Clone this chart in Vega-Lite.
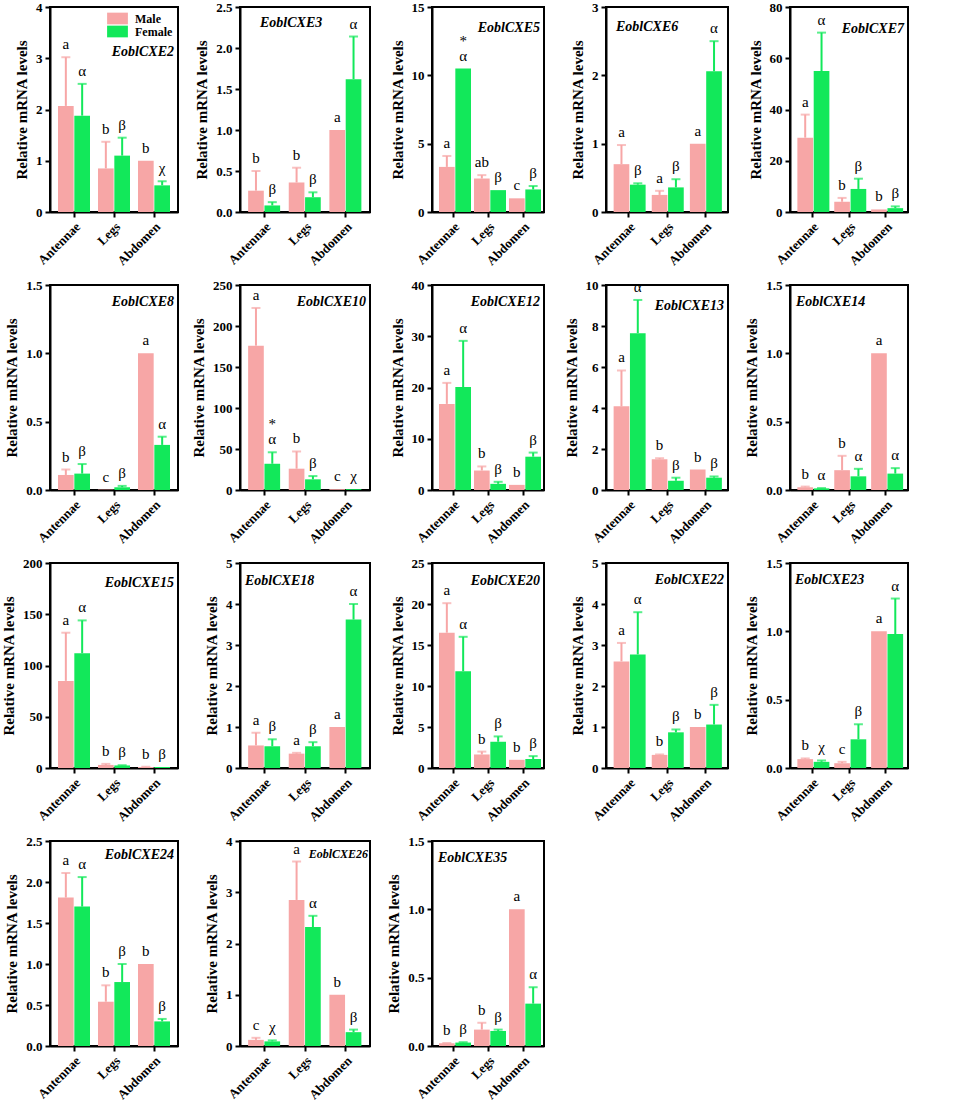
{
"$schema": "https://vega.github.io/schema/vega-lite/v6.json",
"background": "white",
"padding": {"left": 0, "top": 0, "right": 5, "bottom": 0},
"datasets": {"expr": [
{"gene":"EoblCXE2","tissue":"Antennae","sex":"Male","value":2.07,"upper":3.02,"letter":"a"},
{"gene":"EoblCXE2","tissue":"Antennae","sex":"Female","value":1.88,"upper":2.5,"letter":"α"},
{"gene":"EoblCXE2","tissue":"Legs","sex":"Male","value":0.85,"upper":1.37,"letter":"b"},
{"gene":"EoblCXE2","tissue":"Legs","sex":"Female","value":1.1,"upper":1.45,"letter":"β"},
{"gene":"EoblCXE2","tissue":"Abdomen","sex":"Male","value":1.0,"upper":1.0,"letter":"b"},
{"gene":"EoblCXE2","tissue":"Abdomen","sex":"Female","value":0.52,"upper":0.6,"letter":"χ"},
{"gene":"EoblCXE3","tissue":"Antennae","sex":"Male","value":0.26,"upper":0.5,"letter":"b"},
{"gene":"EoblCXE3","tissue":"Antennae","sex":"Female","value":0.08,"upper":0.12,"letter":"β"},
{"gene":"EoblCXE3","tissue":"Legs","sex":"Male","value":0.36,"upper":0.54,"letter":"b"},
{"gene":"EoblCXE3","tissue":"Legs","sex":"Female","value":0.18,"upper":0.24,"letter":"β"},
{"gene":"EoblCXE3","tissue":"Abdomen","sex":"Male","value":1.0,"upper":1.0,"letter":"a"},
{"gene":"EoblCXE3","tissue":"Abdomen","sex":"Female","value":1.62,"upper":2.14,"letter":"α"},
{"gene":"EoblCXE5","tissue":"Antennae","sex":"Male","value":3.3,"upper":4.1,"letter":"a"},
{"gene":"EoblCXE5","tissue":"Antennae","sex":"Female","value":10.5,"upper":10.5,"letter":"α","star":"*"},
{"gene":"EoblCXE5","tissue":"Legs","sex":"Male","value":2.45,"upper":2.7,"letter":"ab"},
{"gene":"EoblCXE5","tissue":"Legs","sex":"Female","value":1.6,"upper":1.6,"letter":"β"},
{"gene":"EoblCXE5","tissue":"Abdomen","sex":"Male","value":1.0,"upper":1.0,"letter":"c"},
{"gene":"EoblCXE5","tissue":"Abdomen","sex":"Female","value":1.65,"upper":1.9,"letter":"β"},
{"gene":"EoblCXE6","tissue":"Antennae","sex":"Male","value":0.7,"upper":0.98,"letter":"a"},
{"gene":"EoblCXE6","tissue":"Antennae","sex":"Female","value":0.4,"upper":0.42,"letter":"β"},
{"gene":"EoblCXE6","tissue":"Legs","sex":"Male","value":0.25,"upper":0.31,"letter":"a"},
{"gene":"EoblCXE6","tissue":"Legs","sex":"Female","value":0.36,"upper":0.48,"letter":"β"},
{"gene":"EoblCXE6","tissue":"Abdomen","sex":"Male","value":1.0,"upper":1.0,"letter":"a"},
{"gene":"EoblCXE6","tissue":"Abdomen","sex":"Female","value":2.06,"upper":2.5,"letter":"α"},
{"gene":"EoblCXE7","tissue":"Antennae","sex":"Male","value":29,"upper":38,"letter":"a"},
{"gene":"EoblCXE7","tissue":"Antennae","sex":"Female","value":55,"upper":70,"letter":"α"},
{"gene":"EoblCXE7","tissue":"Legs","sex":"Male","value":4,"upper":5.5,"letter":"b"},
{"gene":"EoblCXE7","tissue":"Legs","sex":"Female","value":9,"upper":13,"letter":"β"},
{"gene":"EoblCXE7","tissue":"Abdomen","sex":"Male","value":1,"upper":1,"letter":"b"},
{"gene":"EoblCXE7","tissue":"Abdomen","sex":"Female","value":1.5,"upper":2.2,"letter":"β"},
{"gene":"EoblCXE8","tissue":"Antennae","sex":"Male","value":0.11,"upper":0.15,"letter":"b"},
{"gene":"EoblCXE8","tissue":"Antennae","sex":"Female","value":0.12,"upper":0.19,"letter":"β"},
{"gene":"EoblCXE8","tissue":"Legs","sex":"Male","value":0.003,"upper":0.003,"letter":"c"},
{"gene":"EoblCXE8","tissue":"Legs","sex":"Female","value":0.02,"upper":0.03,"letter":"β"},
{"gene":"EoblCXE8","tissue":"Abdomen","sex":"Male","value":1.0,"upper":1.0,"letter":"a"},
{"gene":"EoblCXE8","tissue":"Abdomen","sex":"Female","value":0.33,"upper":0.39,"letter":"α"},
{"gene":"EoblCXE10","tissue":"Antennae","sex":"Male","value":176,"upper":222,"letter":"a"},
{"gene":"EoblCXE10","tissue":"Antennae","sex":"Female","value":32,"upper":46,"letter":"α","star":"*"},
{"gene":"EoblCXE10","tissue":"Legs","sex":"Male","value":26,"upper":47,"letter":"b"},
{"gene":"EoblCXE10","tissue":"Legs","sex":"Female","value":13,"upper":17,"letter":"β"},
{"gene":"EoblCXE10","tissue":"Abdomen","sex":"Male","value":1,"upper":1,"letter":"c"},
{"gene":"EoblCXE10","tissue":"Abdomen","sex":"Female","value":1,"upper":1,"letter":"χ"},
{"gene":"EoblCXE12","tissue":"Antennae","sex":"Male","value":16.8,"upper":20.9,"letter":"a"},
{"gene":"EoblCXE12","tissue":"Antennae","sex":"Female","value":20.1,"upper":29.1,"letter":"α"},
{"gene":"EoblCXE12","tissue":"Legs","sex":"Male","value":3.8,"upper":4.6,"letter":"b"},
{"gene":"EoblCXE12","tissue":"Legs","sex":"Female","value":1.2,"upper":1.6,"letter":"β"},
{"gene":"EoblCXE12","tissue":"Abdomen","sex":"Male","value":1.0,"upper":1.0,"letter":"b"},
{"gene":"EoblCXE12","tissue":"Abdomen","sex":"Female","value":6.5,"upper":7.3,"letter":"β"},
{"gene":"EoblCXE13","tissue":"Antennae","sex":"Male","value":4.08,"upper":5.83,"letter":"a"},
{"gene":"EoblCXE13","tissue":"Antennae","sex":"Female","value":7.65,"upper":9.27,"letter":"α"},
{"gene":"EoblCXE13","tissue":"Legs","sex":"Male","value":1.5,"upper":1.55,"letter":"b"},
{"gene":"EoblCXE13","tissue":"Legs","sex":"Female","value":0.45,"upper":0.6,"letter":"β"},
{"gene":"EoblCXE13","tissue":"Abdomen","sex":"Male","value":1.0,"upper":1.0,"letter":"b"},
{"gene":"EoblCXE13","tissue":"Abdomen","sex":"Female","value":0.6,"upper":0.66,"letter":"β"},
{"gene":"EoblCXE14","tissue":"Antennae","sex":"Male","value":0.02,"upper":0.025,"letter":"b"},
{"gene":"EoblCXE14","tissue":"Antennae","sex":"Female","value":0.012,"upper":0.014,"letter":"α"},
{"gene":"EoblCXE14","tissue":"Legs","sex":"Male","value":0.145,"upper":0.25,"letter":"b"},
{"gene":"EoblCXE14","tissue":"Legs","sex":"Female","value":0.1,"upper":0.155,"letter":"α"},
{"gene":"EoblCXE14","tissue":"Abdomen","sex":"Male","value":1.0,"upper":1.0,"letter":"a"},
{"gene":"EoblCXE14","tissue":"Abdomen","sex":"Female","value":0.12,"upper":0.16,"letter":"α"},
{"gene":"EoblCXE15","tissue":"Antennae","sex":"Male","value":85,"upper":132,"letter":"a"},
{"gene":"EoblCXE15","tissue":"Antennae","sex":"Female","value":112,"upper":144,"letter":"α"},
{"gene":"EoblCXE15","tissue":"Legs","sex":"Male","value":3,"upper":4,"letter":"b"},
{"gene":"EoblCXE15","tissue":"Legs","sex":"Female","value":2.5,"upper":2.7,"letter":"β"},
{"gene":"EoblCXE15","tissue":"Abdomen","sex":"Male","value":1,"upper":1.2,"letter":"b"},
{"gene":"EoblCXE15","tissue":"Abdomen","sex":"Female","value":1,"upper":1,"letter":"β"},
{"gene":"EoblCXE18","tissue":"Antennae","sex":"Male","value":0.55,"upper":0.86,"letter":"a"},
{"gene":"EoblCXE18","tissue":"Antennae","sex":"Female","value":0.53,"upper":0.7,"letter":"β"},
{"gene":"EoblCXE18","tissue":"Legs","sex":"Male","value":0.35,"upper":0.37,"letter":"a"},
{"gene":"EoblCXE18","tissue":"Legs","sex":"Female","value":0.53,"upper":0.63,"letter":"β"},
{"gene":"EoblCXE18","tissue":"Abdomen","sex":"Male","value":1.0,"upper":1.0,"letter":"a"},
{"gene":"EoblCXE18","tissue":"Abdomen","sex":"Female","value":3.62,"upper":4.0,"letter":"α"},
{"gene":"EoblCXE20","tissue":"Antennae","sex":"Male","value":16.5,"upper":20.1,"letter":"a"},
{"gene":"EoblCXE20","tissue":"Antennae","sex":"Female","value":11.8,"upper":16.0,"letter":"α"},
{"gene":"EoblCXE20","tissue":"Legs","sex":"Male","value":1.65,"upper":2.0,"letter":"b"},
{"gene":"EoblCXE20","tissue":"Legs","sex":"Female","value":3.2,"upper":3.85,"letter":"β"},
{"gene":"EoblCXE20","tissue":"Abdomen","sex":"Male","value":1.0,"upper":1.0,"letter":"b"},
{"gene":"EoblCXE20","tissue":"Abdomen","sex":"Female","value":1.1,"upper":1.45,"letter":"β"},
{"gene":"EoblCXE22","tissue":"Antennae","sex":"Male","value":2.6,"upper":3.05,"letter":"a"},
{"gene":"EoblCXE22","tissue":"Antennae","sex":"Female","value":2.77,"upper":3.8,"letter":"α"},
{"gene":"EoblCXE22","tissue":"Legs","sex":"Male","value":0.32,"upper":0.33,"letter":"b"},
{"gene":"EoblCXE22","tissue":"Legs","sex":"Female","value":0.87,"upper":0.94,"letter":"β"},
{"gene":"EoblCXE22","tissue":"Abdomen","sex":"Male","value":1.0,"upper":1.0,"letter":"b"},
{"gene":"EoblCXE22","tissue":"Abdomen","sex":"Female","value":1.06,"upper":1.54,"letter":"β"},
{"gene":"EoblCXE23","tissue":"Antennae","sex":"Male","value":0.065,"upper":0.07,"letter":"b"},
{"gene":"EoblCXE23","tissue":"Antennae","sex":"Female","value":0.045,"upper":0.055,"letter":"χ"},
{"gene":"EoblCXE23","tissue":"Legs","sex":"Male","value":0.035,"upper":0.045,"letter":"c"},
{"gene":"EoblCXE23","tissue":"Legs","sex":"Female","value":0.21,"upper":0.32,"letter":"β"},
{"gene":"EoblCXE23","tissue":"Abdomen","sex":"Male","value":1.0,"upper":1.0,"letter":"a"},
{"gene":"EoblCXE23","tissue":"Abdomen","sex":"Female","value":0.98,"upper":1.24,"letter":"α"},
{"gene":"EoblCXE24","tissue":"Antennae","sex":"Male","value":1.81,"upper":2.11,"letter":"a"},
{"gene":"EoblCXE24","tissue":"Antennae","sex":"Female","value":1.7,"upper":2.06,"letter":"α"},
{"gene":"EoblCXE24","tissue":"Legs","sex":"Male","value":0.54,"upper":0.74,"letter":"b"},
{"gene":"EoblCXE24","tissue":"Legs","sex":"Female","value":0.78,"upper":1.0,"letter":"β"},
{"gene":"EoblCXE24","tissue":"Abdomen","sex":"Male","value":1.0,"upper":1.0,"letter":"b"},
{"gene":"EoblCXE24","tissue":"Abdomen","sex":"Female","value":0.3,"upper":0.33,"letter":"β"},
{"gene":"EoblCXE26","tissue":"Antennae","sex":"Male","value":0.12,"upper":0.16,"letter":"c"},
{"gene":"EoblCXE26","tissue":"Antennae","sex":"Female","value":0.09,"upper":0.11,"letter":"χ"},
{"gene":"EoblCXE26","tissue":"Legs","sex":"Male","value":2.85,"upper":3.6,"letter":"a"},
{"gene":"EoblCXE26","tissue":"Legs","sex":"Female","value":2.32,"upper":2.54,"letter":"α"},
{"gene":"EoblCXE26","tissue":"Abdomen","sex":"Male","value":1.0,"upper":1.0,"letter":"b"},
{"gene":"EoblCXE26","tissue":"Abdomen","sex":"Female","value":0.27,"upper":0.32,"letter":"β"},
{"gene":"EoblCXE35","tissue":"Antennae","sex":"Male","value":0.02,"upper":0.022,"letter":"b"},
{"gene":"EoblCXE35","tissue":"Antennae","sex":"Female","value":0.025,"upper":0.028,"letter":"β"},
{"gene":"EoblCXE35","tissue":"Legs","sex":"Male","value":0.12,"upper":0.17,"letter":"b"},
{"gene":"EoblCXE35","tissue":"Legs","sex":"Female","value":0.11,"upper":0.12,"letter":"β"},
{"gene":"EoblCXE35","tissue":"Abdomen","sex":"Male","value":1.0,"upper":1.0,"letter":"a"},
{"gene":"EoblCXE35","tissue":"Abdomen","sex":"Female","value":0.31,"upper":0.43,"letter":"α"}
]},
"data": {"name": "expr"},
"columns": 5,
"bounds": "flush",
"align": "each",
"spacing": {"row": 73, "column": 62},
"resolve": {"scale": {"color": "independent"}},
"concat": [
{"width":128,"height":205,"title":{"text":"EoblCXE2","offset":-58},"transform":[{"filter":"datum.gene==='EoblCXE2'"}],
 "encoding":{"x":{"field":"tissue","type":"nominal","sort":["Antennae","Legs","Abdomen"],"title":null},"xOffset":{"field":"sex","sort":["Male","Female"]},
  "color":{"field":"sex","type":"nominal","sort":["Male","Female"],"scale":{"domain":["Male","Female"],"range":["#F7A6A6","#12E85A"]},
   "legend":{"orient":"top-right","title":null,"offset":5,"padding":0,"rowPadding":0,"labelFont":"Liberation Serif, Times New Roman, serif","labelFontSize":12,"labelFontWeight":"bold","labelColor":"black","labelOffset":11,"symbolType":"M-1.6,-0.9H1.6V0.9H-1.6Z","symbolSize":169,"symbolStrokeWidth":0,"symbolOpacity":1}},
  "y":{"field":"value","type":"quantitative","scale":{"domain":[0,4],"nice":false},"title":"Relative mRNA levels"}},
 "layer":[
  {"mark":{"type":"bar"}},
  {"transform":[{"filter":"datum.upper > datum.value"}],"mark":{"type":"rule","strokeWidth":2},"encoding":{"y2":{"field":"upper"}}},
  {"transform":[{"filter":"datum.upper > datum.value"}],"mark":{"type":"tick","thickness":2,"size":9},"encoding":{"y":{"field":"upper","type":"quantitative","title":"Relative mRNA levels"}}},
  {"mark":{"type":"text","dy":-8,"baseline":"alphabetic"},"encoding":{"y":{"field":"upper","type":"quantitative","title":"Relative mRNA levels"},"text":{"field":"letter"},"color":{"value":"black"}}}
 ]},
{"width":130,"height":205,"title":{"text":"EoblCXE3","anchor":"start","dx":20,"offset":-29},"transform":[{"filter":"datum.gene==='EoblCXE3'"}],
 "encoding":{"x":{"field":"tissue","type":"nominal","sort":["Antennae","Legs","Abdomen"],"title":null},"xOffset":{"field":"sex","sort":["Male","Female"]},
  "color":{"field":"sex","type":"nominal","scale":{"domain":["Male","Female"],"range":["#F7A6A6","#12E85A"]},"legend":null},
  "y":{"field":"value","type":"quantitative","scale":{"domain":[0,2.5],"nice":false},"title":"Relative mRNA levels"}},
 "layer":[
  {"mark":{"type":"bar"}},
  {"transform":[{"filter":"datum.upper > datum.value"}],"mark":{"type":"rule","strokeWidth":2},"encoding":{"y2":{"field":"upper"}}},
  {"transform":[{"filter":"datum.upper > datum.value"}],"mark":{"type":"tick","thickness":2,"size":9},"encoding":{"y":{"field":"upper","type":"quantitative","title":"Relative mRNA levels"}}},
  {"mark":{"type":"text","dy":-8,"baseline":"alphabetic"},"encoding":{"y":{"field":"upper","type":"quantitative","title":"Relative mRNA levels"},"text":{"field":"letter"},"color":{"value":"black"}}}
 ]},
{"width":112,"height":205,"title":{"text":"EoblCXE5","offset":-34},"transform":[{"filter":"datum.gene==='EoblCXE5'"}],
 "encoding":{"x":{"field":"tissue","type":"nominal","sort":["Antennae","Legs","Abdomen"],"title":null},"xOffset":{"field":"sex","sort":["Male","Female"]},
  "color":{"field":"sex","type":"nominal","scale":{"domain":["Male","Female"],"range":["#F7A6A6","#12E85A"]},"legend":null},
  "y":{"field":"value","type":"quantitative","scale":{"domain":[0,15],"nice":false},"title":"Relative mRNA levels"}},
 "layer":[
  {"mark":{"type":"bar"}},
  {"transform":[{"filter":"datum.upper > datum.value"}],"mark":{"type":"rule","strokeWidth":2},"encoding":{"y2":{"field":"upper"}}},
  {"transform":[{"filter":"datum.upper > datum.value"}],"mark":{"type":"tick","thickness":2,"size":9},"encoding":{"y":{"field":"upper","type":"quantitative","title":"Relative mRNA levels"}}},
  {"mark":{"type":"text","dy":-8,"baseline":"alphabetic"},"encoding":{"y":{"field":"upper","type":"quantitative","title":"Relative mRNA levels"},"text":{"field":"letter"},"color":{"value":"black"}}},
  {"transform":[{"filter":"datum.star"}],"mark":{"type":"text","dy":-23,"baseline":"alphabetic"},"encoding":{"y":{"field":"upper","type":"quantitative","title":"Relative mRNA levels"},"text":{"field":"star"},"color":{"value":"black"}}}
 ]},
{"width":122,"height":205,"title":{"text":"EoblCXE6","anchor":"start","dx":10,"offset":-33},"transform":[{"filter":"datum.gene==='EoblCXE6'"}],
 "encoding":{"x":{"field":"tissue","type":"nominal","sort":["Antennae","Legs","Abdomen"],"title":null},"xOffset":{"field":"sex","sort":["Male","Female"]},
  "color":{"field":"sex","type":"nominal","scale":{"domain":["Male","Female"],"range":["#F7A6A6","#12E85A"]},"legend":null},
  "y":{"field":"value","type":"quantitative","scale":{"domain":[0,3],"nice":false},"title":"Relative mRNA levels"}},
 "layer":[
  {"mark":{"type":"bar"}},
  {"transform":[{"filter":"datum.upper > datum.value"}],"mark":{"type":"rule","strokeWidth":2},"encoding":{"y2":{"field":"upper"}}},
  {"transform":[{"filter":"datum.upper > datum.value"}],"mark":{"type":"tick","thickness":2,"size":9},"encoding":{"y":{"field":"upper","type":"quantitative","title":"Relative mRNA levels"}}},
  {"mark":{"type":"text","dy":-8,"baseline":"alphabetic"},"encoding":{"y":{"field":"upper","type":"quantitative","title":"Relative mRNA levels"},"text":{"field":"letter"},"color":{"value":"black"}}}
 ]},
{"width":118,"height":205,"title":{"text":"EoblCXE7","offset":-35},"transform":[{"filter":"datum.gene==='EoblCXE7'"}],
 "encoding":{"x":{"field":"tissue","type":"nominal","sort":["Antennae","Legs","Abdomen"],"title":null},"xOffset":{"field":"sex","sort":["Male","Female"]},
  "color":{"field":"sex","type":"nominal","scale":{"domain":["Male","Female"],"range":["#F7A6A6","#12E85A"]},"legend":null},
  "y":{"field":"value","type":"quantitative","scale":{"domain":[0,80],"nice":false},"title":"Relative mRNA levels"}},
 "layer":[
  {"mark":{"type":"bar"}},
  {"transform":[{"filter":"datum.upper > datum.value"}],"mark":{"type":"rule","strokeWidth":2},"encoding":{"y2":{"field":"upper"}}},
  {"transform":[{"filter":"datum.upper > datum.value"}],"mark":{"type":"tick","thickness":2,"size":9},"encoding":{"y":{"field":"upper","type":"quantitative","title":"Relative mRNA levels"}}},
  {"mark":{"type":"text","dy":-8,"baseline":"alphabetic"},"encoding":{"y":{"field":"upper","type":"quantitative","title":"Relative mRNA levels"},"text":{"field":"letter"},"color":{"value":"black"}}}
 ]},
{"width":128,"height":205,"title":{"text":"EoblCXE8","offset":-30},"transform":[{"filter":"datum.gene==='EoblCXE8'"}],
 "encoding":{"x":{"field":"tissue","type":"nominal","sort":["Antennae","Legs","Abdomen"],"title":null},"xOffset":{"field":"sex","sort":["Male","Female"]},
  "color":{"field":"sex","type":"nominal","scale":{"domain":["Male","Female"],"range":["#F7A6A6","#12E85A"]},"legend":null},
  "y":{"field":"value","type":"quantitative","scale":{"domain":[0,1.5],"nice":false},"title":"Relative mRNA levels"}},
 "layer":[
  {"mark":{"type":"bar"}},
  {"transform":[{"filter":"datum.upper > datum.value"}],"mark":{"type":"rule","strokeWidth":2},"encoding":{"y2":{"field":"upper"}}},
  {"transform":[{"filter":"datum.upper > datum.value"}],"mark":{"type":"tick","thickness":2,"size":9},"encoding":{"y":{"field":"upper","type":"quantitative","title":"Relative mRNA levels"}}},
  {"mark":{"type":"text","dy":-8,"baseline":"alphabetic"},"encoding":{"y":{"field":"upper","type":"quantitative","title":"Relative mRNA levels"},"text":{"field":"letter"},"color":{"value":"black"}}}
 ]},
{"width":130,"height":205,"title":{"text":"EoblCXE10","offset":-30},"transform":[{"filter":"datum.gene==='EoblCXE10'"}],
 "encoding":{"x":{"field":"tissue","type":"nominal","sort":["Antennae","Legs","Abdomen"],"title":null},"xOffset":{"field":"sex","sort":["Male","Female"]},
  "color":{"field":"sex","type":"nominal","scale":{"domain":["Male","Female"],"range":["#F7A6A6","#12E85A"]},"legend":null},
  "y":{"field":"value","type":"quantitative","scale":{"domain":[0,250],"nice":false},"title":"Relative mRNA levels"}},
 "layer":[
  {"mark":{"type":"bar"}},
  {"transform":[{"filter":"datum.upper > datum.value"}],"mark":{"type":"rule","strokeWidth":2},"encoding":{"y2":{"field":"upper"}}},
  {"transform":[{"filter":"datum.upper > datum.value"}],"mark":{"type":"tick","thickness":2,"size":9},"encoding":{"y":{"field":"upper","type":"quantitative","title":"Relative mRNA levels"}}},
  {"mark":{"type":"text","dy":-8,"baseline":"alphabetic"},"encoding":{"y":{"field":"upper","type":"quantitative","title":"Relative mRNA levels"},"text":{"field":"letter"},"color":{"value":"black"}}},
  {"transform":[{"filter":"datum.star"}],"mark":{"type":"text","dy":-23,"baseline":"alphabetic"},"encoding":{"y":{"field":"upper","type":"quantitative","title":"Relative mRNA levels"},"text":{"field":"star"},"color":{"value":"black"}}}
 ]},
{"width":112,"height":205,"title":{"text":"EoblCXE12","offset":-30},"transform":[{"filter":"datum.gene==='EoblCXE12'"}],
 "encoding":{"x":{"field":"tissue","type":"nominal","sort":["Antennae","Legs","Abdomen"],"title":null},"xOffset":{"field":"sex","sort":["Male","Female"]},
  "color":{"field":"sex","type":"nominal","scale":{"domain":["Male","Female"],"range":["#F7A6A6","#12E85A"]},"legend":null},
  "y":{"field":"value","type":"quantitative","scale":{"domain":[0,40],"nice":false},"title":"Relative mRNA levels"}},
 "layer":[
  {"mark":{"type":"bar"}},
  {"transform":[{"filter":"datum.upper > datum.value"}],"mark":{"type":"rule","strokeWidth":2},"encoding":{"y2":{"field":"upper"}}},
  {"transform":[{"filter":"datum.upper > datum.value"}],"mark":{"type":"tick","thickness":2,"size":9},"encoding":{"y":{"field":"upper","type":"quantitative","title":"Relative mRNA levels"}}},
  {"mark":{"type":"text","dy":-8,"baseline":"alphabetic"},"encoding":{"y":{"field":"upper","type":"quantitative","title":"Relative mRNA levels"},"text":{"field":"letter"},"color":{"value":"black"}}}
 ]},
{"width":122,"height":205,"title":{"text":"EoblCXE13","offset":-34},"transform":[{"filter":"datum.gene==='EoblCXE13'"}],
 "encoding":{"x":{"field":"tissue","type":"nominal","sort":["Antennae","Legs","Abdomen"],"title":null},"xOffset":{"field":"sex","sort":["Male","Female"]},
  "color":{"field":"sex","type":"nominal","scale":{"domain":["Male","Female"],"range":["#F7A6A6","#12E85A"]},"legend":null},
  "y":{"field":"value","type":"quantitative","scale":{"domain":[0,10],"nice":false},"title":"Relative mRNA levels"}},
 "layer":[
  {"mark":{"type":"bar"}},
  {"transform":[{"filter":"datum.upper > datum.value"}],"mark":{"type":"rule","strokeWidth":2},"encoding":{"y2":{"field":"upper"}}},
  {"transform":[{"filter":"datum.upper > datum.value"}],"mark":{"type":"tick","thickness":2,"size":9},"encoding":{"y":{"field":"upper","type":"quantitative","title":"Relative mRNA levels"}}},
  {"mark":{"type":"text","dy":-8,"baseline":"alphabetic"},"encoding":{"y":{"field":"upper","type":"quantitative","title":"Relative mRNA levels"},"text":{"field":"letter"},"color":{"value":"black"}}}
 ]},
{"width":118,"height":205,"title":{"text":"EoblCXE14","anchor":"start","dx":6,"offset":-30},"transform":[{"filter":"datum.gene==='EoblCXE14'"}],
 "encoding":{"x":{"field":"tissue","type":"nominal","sort":["Antennae","Legs","Abdomen"],"title":null},"xOffset":{"field":"sex","sort":["Male","Female"]},
  "color":{"field":"sex","type":"nominal","scale":{"domain":["Male","Female"],"range":["#F7A6A6","#12E85A"]},"legend":null},
  "y":{"field":"value","type":"quantitative","scale":{"domain":[0,1.5],"nice":false},"title":"Relative mRNA levels"}},
 "layer":[
  {"mark":{"type":"bar"}},
  {"transform":[{"filter":"datum.upper > datum.value"}],"mark":{"type":"rule","strokeWidth":2},"encoding":{"y2":{"field":"upper"}}},
  {"transform":[{"filter":"datum.upper > datum.value"}],"mark":{"type":"tick","thickness":2,"size":9},"encoding":{"y":{"field":"upper","type":"quantitative","title":"Relative mRNA levels"}}},
  {"mark":{"type":"text","dy":-8,"baseline":"alphabetic"},"encoding":{"y":{"field":"upper","type":"quantitative","title":"Relative mRNA levels"},"text":{"field":"letter"},"color":{"value":"black"}}}
 ]},
{"width":128,"height":205,"title":{"text":"EoblCXE15","offset":-33},"transform":[{"filter":"datum.gene==='EoblCXE15'"}],
 "encoding":{"x":{"field":"tissue","type":"nominal","sort":["Antennae","Legs","Abdomen"],"title":null},"xOffset":{"field":"sex","sort":["Male","Female"]},
  "color":{"field":"sex","type":"nominal","scale":{"domain":["Male","Female"],"range":["#F7A6A6","#12E85A"]},"legend":null},
  "y":{"field":"value","type":"quantitative","scale":{"domain":[0,200],"nice":false},"title":"Relative mRNA levels"}},
 "layer":[
  {"mark":{"type":"bar"}},
  {"transform":[{"filter":"datum.upper > datum.value"}],"mark":{"type":"rule","strokeWidth":2},"encoding":{"y2":{"field":"upper"}}},
  {"transform":[{"filter":"datum.upper > datum.value"}],"mark":{"type":"tick","thickness":2,"size":9},"encoding":{"y":{"field":"upper","type":"quantitative","title":"Relative mRNA levels"}}},
  {"mark":{"type":"text","dy":-8,"baseline":"alphabetic"},"encoding":{"y":{"field":"upper","type":"quantitative","title":"Relative mRNA levels"},"text":{"field":"letter"},"color":{"value":"black"}}}
 ]},
{"width":130,"height":205,"title":{"text":"EoblCXE18","anchor":"start","dx":5,"offset":-31},"transform":[{"filter":"datum.gene==='EoblCXE18'"}],
 "encoding":{"x":{"field":"tissue","type":"nominal","sort":["Antennae","Legs","Abdomen"],"title":null},"xOffset":{"field":"sex","sort":["Male","Female"]},
  "color":{"field":"sex","type":"nominal","scale":{"domain":["Male","Female"],"range":["#F7A6A6","#12E85A"]},"legend":null},
  "y":{"field":"value","type":"quantitative","scale":{"domain":[0,5],"nice":false},"title":"Relative mRNA levels"}},
 "layer":[
  {"mark":{"type":"bar"}},
  {"transform":[{"filter":"datum.upper > datum.value"}],"mark":{"type":"rule","strokeWidth":2},"encoding":{"y2":{"field":"upper"}}},
  {"transform":[{"filter":"datum.upper > datum.value"}],"mark":{"type":"tick","thickness":2,"size":9},"encoding":{"y":{"field":"upper","type":"quantitative","title":"Relative mRNA levels"}}},
  {"mark":{"type":"text","dy":-8,"baseline":"alphabetic"},"encoding":{"y":{"field":"upper","type":"quantitative","title":"Relative mRNA levels"},"text":{"field":"letter"},"color":{"value":"black"}}}
 ]},
{"width":112,"height":205,"title":{"text":"EoblCXE20","offset":-31},"transform":[{"filter":"datum.gene==='EoblCXE20'"}],
 "encoding":{"x":{"field":"tissue","type":"nominal","sort":["Antennae","Legs","Abdomen"],"title":null},"xOffset":{"field":"sex","sort":["Male","Female"]},
  "color":{"field":"sex","type":"nominal","scale":{"domain":["Male","Female"],"range":["#F7A6A6","#12E85A"]},"legend":null},
  "y":{"field":"value","type":"quantitative","scale":{"domain":[0,25],"nice":false},"title":"Relative mRNA levels"}},
 "layer":[
  {"mark":{"type":"bar"}},
  {"transform":[{"filter":"datum.upper > datum.value"}],"mark":{"type":"rule","strokeWidth":2},"encoding":{"y2":{"field":"upper"}}},
  {"transform":[{"filter":"datum.upper > datum.value"}],"mark":{"type":"tick","thickness":2,"size":9},"encoding":{"y":{"field":"upper","type":"quantitative","title":"Relative mRNA levels"}}},
  {"mark":{"type":"text","dy":-8,"baseline":"alphabetic"},"encoding":{"y":{"field":"upper","type":"quantitative","title":"Relative mRNA levels"},"text":{"field":"letter"},"color":{"value":"black"}}}
 ]},
{"width":122,"height":205,"title":{"text":"EoblCXE22","offset":-30},"transform":[{"filter":"datum.gene==='EoblCXE22'"}],
 "encoding":{"x":{"field":"tissue","type":"nominal","sort":["Antennae","Legs","Abdomen"],"title":null},"xOffset":{"field":"sex","sort":["Male","Female"]},
  "color":{"field":"sex","type":"nominal","scale":{"domain":["Male","Female"],"range":["#F7A6A6","#12E85A"]},"legend":null},
  "y":{"field":"value","type":"quantitative","scale":{"domain":[0,5],"nice":false},"title":"Relative mRNA levels"}},
 "layer":[
  {"mark":{"type":"bar"}},
  {"transform":[{"filter":"datum.upper > datum.value"}],"mark":{"type":"rule","strokeWidth":2},"encoding":{"y2":{"field":"upper"}}},
  {"transform":[{"filter":"datum.upper > datum.value"}],"mark":{"type":"tick","thickness":2,"size":9},"encoding":{"y":{"field":"upper","type":"quantitative","title":"Relative mRNA levels"}}},
  {"mark":{"type":"text","dy":-8,"baseline":"alphabetic"},"encoding":{"y":{"field":"upper","type":"quantitative","title":"Relative mRNA levels"},"text":{"field":"letter"},"color":{"value":"black"}}}
 ]},
{"width":118,"height":205,"title":{"text":"EoblCXE23","anchor":"start","dx":5,"offset":-30},"transform":[{"filter":"datum.gene==='EoblCXE23'"}],
 "encoding":{"x":{"field":"tissue","type":"nominal","sort":["Antennae","Legs","Abdomen"],"title":null},"xOffset":{"field":"sex","sort":["Male","Female"]},
  "color":{"field":"sex","type":"nominal","scale":{"domain":["Male","Female"],"range":["#F7A6A6","#12E85A"]},"legend":null},
  "y":{"field":"value","type":"quantitative","scale":{"domain":[0,1.5],"nice":false},"title":"Relative mRNA levels"}},
 "layer":[
  {"mark":{"type":"bar"}},
  {"transform":[{"filter":"datum.upper > datum.value"}],"mark":{"type":"rule","strokeWidth":2},"encoding":{"y2":{"field":"upper"}}},
  {"transform":[{"filter":"datum.upper > datum.value"}],"mark":{"type":"tick","thickness":2,"size":9},"encoding":{"y":{"field":"upper","type":"quantitative","title":"Relative mRNA levels"}}},
  {"mark":{"type":"text","dy":-8,"baseline":"alphabetic"},"encoding":{"y":{"field":"upper","type":"quantitative","title":"Relative mRNA levels"},"text":{"field":"letter"},"color":{"value":"black"}}}
 ]},
{"width":128,"height":205,"title":{"text":"EoblCXE24","offset":-27},"transform":[{"filter":"datum.gene==='EoblCXE24'"}],
 "encoding":{"x":{"field":"tissue","type":"nominal","sort":["Antennae","Legs","Abdomen"],"title":null},"xOffset":{"field":"sex","sort":["Male","Female"]},
  "color":{"field":"sex","type":"nominal","scale":{"domain":["Male","Female"],"range":["#F7A6A6","#12E85A"]},"legend":null},
  "y":{"field":"value","type":"quantitative","scale":{"domain":[0,2.5],"nice":false},"title":"Relative mRNA levels"}},
 "layer":[
  {"mark":{"type":"bar"}},
  {"transform":[{"filter":"datum.upper > datum.value"}],"mark":{"type":"rule","strokeWidth":2},"encoding":{"y2":{"field":"upper"}}},
  {"transform":[{"filter":"datum.upper > datum.value"}],"mark":{"type":"tick","thickness":2,"size":9},"encoding":{"y":{"field":"upper","type":"quantitative","title":"Relative mRNA levels"}}},
  {"mark":{"type":"text","dy":-8,"baseline":"alphabetic"},"encoding":{"y":{"field":"upper","type":"quantitative","title":"Relative mRNA levels"},"text":{"field":"letter"},"color":{"value":"black"}}}
 ]},
{"width":130,"height":205,"title":{"text":"EoblCXE26","offset":-26,"fontSize":12,"dx":-2},"transform":[{"filter":"datum.gene==='EoblCXE26'"}],
 "encoding":{"x":{"field":"tissue","type":"nominal","sort":["Antennae","Legs","Abdomen"],"title":null},"xOffset":{"field":"sex","sort":["Male","Female"]},
  "color":{"field":"sex","type":"nominal","scale":{"domain":["Male","Female"],"range":["#F7A6A6","#12E85A"]},"legend":null},
  "y":{"field":"value","type":"quantitative","scale":{"domain":[0,4],"nice":false},"title":"Relative mRNA levels"}},
 "layer":[
  {"mark":{"type":"bar"}},
  {"transform":[{"filter":"datum.upper > datum.value"}],"mark":{"type":"rule","strokeWidth":2},"encoding":{"y2":{"field":"upper"}}},
  {"transform":[{"filter":"datum.upper > datum.value"}],"mark":{"type":"tick","thickness":2,"size":9},"encoding":{"y":{"field":"upper","type":"quantitative","title":"Relative mRNA levels"}}},
  {"mark":{"type":"text","dy":-8,"baseline":"alphabetic"},"encoding":{"y":{"field":"upper","type":"quantitative","title":"Relative mRNA levels"},"text":{"field":"letter"},"color":{"value":"black"}}}
 ]},
{"width":112,"height":205,"title":{"text":"EoblCXE35","anchor":"start","dx":6,"offset":-30},"transform":[{"filter":"datum.gene==='EoblCXE35'"}],
 "encoding":{"x":{"field":"tissue","type":"nominal","sort":["Antennae","Legs","Abdomen"],"title":null},"xOffset":{"field":"sex","sort":["Male","Female"]},
  "color":{"field":"sex","type":"nominal","scale":{"domain":["Male","Female"],"range":["#F7A6A6","#12E85A"]},"legend":null},
  "y":{"field":"value","type":"quantitative","scale":{"domain":[0,1.5],"nice":false},"title":"Relative mRNA levels"}},
 "layer":[
  {"mark":{"type":"bar"}},
  {"transform":[{"filter":"datum.upper > datum.value"}],"mark":{"type":"rule","strokeWidth":2},"encoding":{"y2":{"field":"upper"}}},
  {"transform":[{"filter":"datum.upper > datum.value"}],"mark":{"type":"tick","thickness":2,"size":9},"encoding":{"y":{"field":"upper","type":"quantitative","title":"Relative mRNA levels"}}},
  {"mark":{"type":"text","dy":-8,"baseline":"alphabetic"},"encoding":{"y":{"field":"upper","type":"quantitative","title":"Relative mRNA levels"},"text":{"field":"letter"},"color":{"value":"black"}}}
 ]}
],
"config": {
 "font": "Liberation Serif, Times New Roman, serif",
 "view": {"stroke": "black", "strokeWidth": 2},
 "scale": {"bandPaddingInner": 0.2, "bandPaddingOuter": 0.1, "offsetBandPaddingInner": 0.04},
 "axis": {"labelFont": "Liberation Serif, Times New Roman, serif", "labelFontSize": 13, "labelFontWeight": "bold", "labelColor": "black", "titleFont": "Liberation Serif, Times New Roman, serif", "titleFontSize": 15, "titleFontWeight": "bold", "titleColor": "black", "domainColor": "black", "domainWidth": 2, "tickColor": "black", "tickWidth": 2, "tickSize": 5, "grid": false},
 "axisX": {"labelAngle": -45, "labelAlign": "right", "labelBaseline": "top", "labelPadding": 3},
 "axisY": {"tickCount": 4, "labelPadding": 3, "titlePadding": 6},
 "title": {"font": "Liberation Serif, Times New Roman, serif", "fontSize": 14, "fontWeight": "bold", "fontStyle": "italic", "color": "black", "frame": "group", "baseline": "middle", "anchor": "end", "dx": -4, "offset": -31},
 "text": {"font": "Liberation Serif, Times New Roman, serif", "fontSize": 15}
}
}
